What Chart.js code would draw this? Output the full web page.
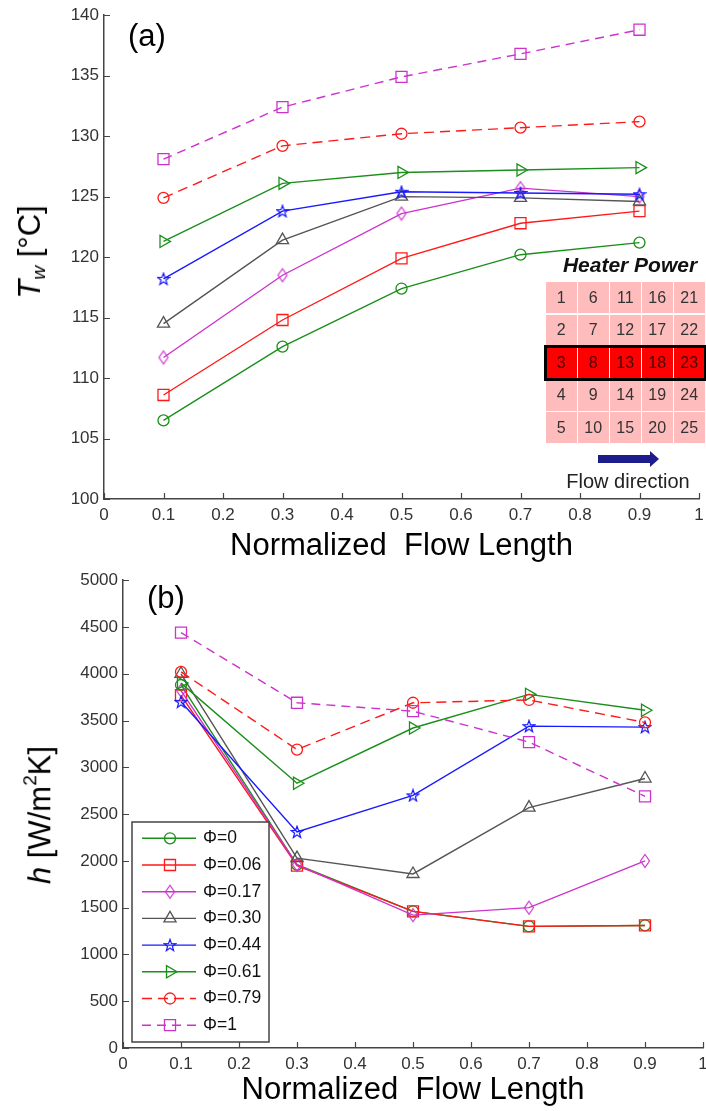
<!DOCTYPE html>
<html>
<head>
<meta charset="utf-8">
<script src="https://cdn.jsdelivr.net/npm/chart.js"></script>
<style>
  body { margin: 0; background: #fff; }
  #wrap { position: relative; width: 706px; height: 1111px; font-family: "Liberation Sans", Arial, sans-serif; overflow: hidden; }
  canvas { position: absolute; left: 0; }
  #chartA { top: 0; }
  #chartB { top: 565px; }
  .ytitle { position: absolute; white-space: nowrap; font-size: 31px; line-height: 1; color: #000;
            transform: translate(-50%, -50%) rotate(-90deg); }
  .ytitle sub { font-size: 0.62em; vertical-align: -0.25em; }
  .ytitle sup { font-size: 0.62em; vertical-align: 0.75em; }
  .panel { position: absolute; font-size: 31px; line-height: 1; color: #000; }
  #heater { position: absolute; left: 546px; top: 282px; display: grid;
            grid-template-columns: repeat(5, 30.5px); grid-auto-rows: 31px; gap: 1.5px; }
  #heater div { background: #ffbcbc; color: #333; font-size: 16px; display: flex; align-items: center; justify-content: center; }
  #heater div.on { background: #ff0000; color: #4a0000; }
  #rowBorder { position: absolute; left: 544px; top: 345px; width: 157px; height: 30px; border: 3px solid #000; }
  #heaterTitle { position: absolute; left: 630px; top: 265px; transform: translate(-50%, -50%);
                 font-size: 21px; font-weight: bold; font-style: italic; white-space: nowrap; color: #111; }
  #flowText { position: absolute; left: 628px; top: 481px; transform: translate(-50%, -50%);
              font-size: 20px; white-space: nowrap; color: #222; }
  #arrow { position: absolute; left: 590px; top: 445px; }
</style>
</head>
<body>
<div id="wrap">
  <canvas id="chartA" width="716" height="565"></canvas>
  <canvas id="chartB" width="716" height="546"></canvas>

  <div class="ytitle" style="left:31px; top:252px;"><i>T</i><sub><i>w</i></sub> [°C]</div>
  <div class="ytitle" style="left:38px; top:815px;"><i>h</i> [W/m<sup>2</sup>K]</div>
  <div class="panel" style="left:128px; top:20px;">(a)</div>
  <div class="panel" style="left:147px; top:582px;">(b)</div>

  <div id="heaterTitle">Heater Power</div>
  <div id="heater"></div>
  <div id="rowBorder"></div>
  <svg id="arrow" width="80" height="30">
    <polygon points="8,10 60,10 60,6 69,14 60,22 60,18 8,18" fill="#1c1c8c"/>
  </svg>
  <div id="flowText">Flow direction</div>
</div>

<script>
// x positions (normalized flow length)
const flowLength = [0.1, 0.3, 0.5, 0.7, 0.9];
const phiLabels = ['Φ=0', 'Φ=0.06', 'Φ=0.17', 'Φ=0.30', 'Φ=0.44', 'Φ=0.61', 'Φ=0.79', 'Φ=1'];

// (a) wall temperature Tw [°C]
const tw_phi0   = [106.5, 112.6, 117.4, 120.2, 121.2];
const tw_phi006 = [108.6, 114.8, 119.9, 122.8, 123.8];
const tw_phi017 = [111.7, 118.5, 123.6, 125.7, 125.0];
const tw_phi030 = [114.5, 121.4, 125.0, 124.9, 124.6];
const tw_phi044 = [118.2, 123.8, 125.4, 125.3, 125.2];
const tw_phi061 = [121.3, 126.1, 127.0, 127.2, 127.4];
const tw_phi079 = [124.9, 129.2, 130.2, 130.7, 131.2];
const tw_phi1   = [128.1, 132.4, 134.9, 136.8, 138.8];

// (b) heat transfer coeff h [W/m2K]
const h_phi0   = [3880, 1960, 1460, 1300, 1310];
const h_phi006 = [3770, 1950, 1460, 1300, 1310];
const h_phi017 = [3820, 1960, 1420, 1500, 2000];
const h_phi030 = [4000, 2030, 1860, 2570, 2880];
const h_phi044 = [3700, 2310, 2700, 3440, 3430];
const h_phi061 = [3900, 2830, 3420, 3780, 3610];
const h_phi079 = [4020, 3190, 3690, 3720, 3480];
const h_phi1   = [4440, 3690, 3600, 3270, 2690];

// axis ranges / steps
const xRange = [0, 1], xStep = 0.1;
const twRange = [100, 140], twStep = 5;
const hRange = [0, 5000], hStep = 500;

// heater inset: numbering of 5x5 heaters, row 3 is on
const heaterGrid = [
  [1, 6, 11, 16, 21],
  [2, 7, 12, 17, 22],
  [3, 8, 13, 18, 23],
  [4, 9, 14, 19, 24],
  [5, 10, 15, 20, 25]
];
const activeRow = 2;

// build the inset
const heaterEl = document.getElementById('heater');
heaterGrid.forEach((row, r) => row.forEach(n => {
  const d = document.createElement('div');
  d.textContent = n;
  if (r === activeRow) d.className = 'on';
  heaterEl.appendChild(d);
}));

Chart.defaults.font.family = '"Liberation Sans", Arial, sans-serif';

// matlab-ish custom markers
function makeDiamond(color) {
  const c = document.createElement('canvas');
  c.width = 12; c.height = 16;
  const g = c.getContext('2d');
  g.strokeStyle = color; g.lineWidth = 1.2;
  g.beginPath();
  g.moveTo(6, 1.5); g.lineTo(10.5, 8); g.lineTo(6, 14.5); g.lineTo(1.5, 8);
  g.closePath(); g.stroke();
  return c;
}
function makeStar(color) {
  const c = document.createElement('canvas');
  c.width = 14; c.height = 14;
  const g = c.getContext('2d');
  g.strokeStyle = color; g.lineWidth = 1.2;
  g.beginPath();
  for (let k = 0; k < 10; k++) {
    const a = -Math.PI / 2 + k * Math.PI / 5;
    const rr = k % 2 ? 2.5 : 6.2;
    const px = 7 + rr * Math.cos(a), py = 7.5 + rr * Math.sin(a);
    k ? g.lineTo(px, py) : g.moveTo(px, py);
  }
  g.closePath(); g.stroke();
  return c;
}

const GREEN = '#1b8f1b', RED = '#ff1a1a', MAG = '#cc33cc', GRAY = '#555555', BLUE = '#1a1aff';
const styles = [
  { color: GREEN, pointStyle: 'circle', r: 5.5 },
  { color: RED, pointStyle: 'rect', r: 7.8 },
  { color: MAG, pointStyle: makeDiamond(MAG), r: 6 },
  { color: GRAY, pointStyle: 'triangle', r: 7 },
  { color: BLUE, pointStyle: makeStar(BLUE), r: 6 },
  { color: GREEN, pointStyle: 'triangle', r: 7, rot: 90 },
  { color: RED, pointStyle: 'circle', r: 5.5, dash: [10, 6] },
  { color: MAG, pointStyle: 'rect', r: 7.8, dash: [9, 6] }
];

function makeSets(series) {
  return series.map((vals, i) => {
    const s = styles[i];
    return {
      label: phiLabels[i],
      data: flowLength.map((x, k) => ({ x: x, y: vals[k] })),
      borderColor: s.color,
      borderWidth: 1.4,
      borderDash: s.dash || [],
      pointStyle: s.pointStyle,
      pointRadius: s.r,
      pointRotation: s.rot || 0,
      pointBorderColor: s.color,
      pointBackgroundColor: 'rgba(0,0,0,0)',
      pointBorderWidth: 1.3,
      order: series.length - i,
      tension: 0
    };
  });
}

// ticks pointing inward like matlab
const inwardTicks = {
  id: 'inwardTicks',
  beforeDatasetsDraw(chart) {
    const { ctx, chartArea: ca, scales: { x, y } } = chart;
    ctx.save();
    ctx.strokeStyle = '#444';
    ctx.lineWidth = 1.2;
    ctx.beginPath();
    x.ticks.forEach(t => {
      const px = Math.round(x.getPixelForValue(t.value)) + 0.5;
      ctx.moveTo(px, ca.bottom); ctx.lineTo(px, ca.bottom - 6);
    });
    y.ticks.forEach(t => {
      const py = Math.round(y.getPixelForValue(t.value)) + 0.5;
      ctx.moveTo(ca.left, py); ctx.lineTo(ca.left + 6, py);
    });
    ctx.stroke();
    ctx.restore();
  }
};

// legend box in lower left of panel b
const boxLegend = {
  id: 'boxLegend',
  afterDraw(chart) {
    const { ctx, chartArea: ca } = chart;
    const left = ca.left + 9, top = ca.bottom - 226, w = 137, h = 220;
    ctx.save();
    ctx.fillStyle = '#fff';
    ctx.fillRect(left, top, w, h);
    ctx.strokeStyle = '#444';
    ctx.lineWidth = 1.5;
    ctx.strokeRect(left, top, w, h);
    chart.data.datasets.forEach((ds, i) => {
      const yy = top + 16.3 + i * 26.7;
      ctx.strokeStyle = ds.borderColor;
      ctx.lineWidth = ds.borderWidth;
      ctx.setLineDash(ds.borderDash);
      ctx.beginPath();
      ctx.moveTo(left + 10, yy); ctx.lineTo(left + 64, yy);
      ctx.stroke();
      ctx.setLineDash([]);
      ctx.fillStyle = 'rgba(0,0,0,0)';
      ctx.lineWidth = ds.pointBorderWidth;
      Chart.helpers.drawPoint(ctx, {
        pointStyle: ds.pointStyle, radius: ds.pointRadius,
        rotation: ds.pointRotation, borderWidth: ds.pointBorderWidth
      }, left + 38, yy);
      ctx.fillStyle = '#111';
      ctx.font = '17.5px "Liberation Sans", Arial, sans-serif';
      ctx.textBaseline = 'middle';
      ctx.textAlign = 'left';
      ctx.fillText(ds.label, left + 71, yy);
    });
    ctx.restore();
  }
};

function axisOpts(range, step, fmt, fit) {
  return {
    type: 'linear', min: range[0], max: range[1],
    grid: { display: false, drawTicks: false },
    border: { display: true, color: '#444', width: 1.5 },
    ticks: { stepSize: step, color: '#333', font: { size: 17 }, callback: fmt },
    afterFit: fit
  };
}

const fmtX = v => String(Math.round(v * 10) / 10);
const fmtY = v => String(Math.round(v));

function makeChart(id, series, yRange, yStep, opts) {
  const xo = axisOpts(xRange, xStep, fmtX, s => { s.height = opts.xh; });
  xo.ticks.padding = 6;
  xo.ticks.maxRotation = 0;
  xo.title = { display: true, text: 'Normalized  Flow Length', color: '#000', font: { size: 31 }, padding: 0 };
  const yo = axisOpts(yRange, yStep, fmtY, s => { s.width = opts.yw; });
  yo.ticks.padding = 5;
  return new Chart(document.getElementById(id), {
    type: 'line',
    data: { datasets: makeSets(series) },
    options: {
      responsive: false,
      animation: false,
      layout: { padding: opts.pad },
      plugins: { legend: { display: false }, tooltip: { enabled: false } },
      scales: { x: xo, y: yo }
    },
    plugins: opts.plugins
  });
}

// both canvases are 10px wider than the page; right padding sets where the axis ends
makeChart('chartA',
  [tw_phi0, tw_phi006, tw_phi017, tw_phi030, tw_phi044, tw_phi061, tw_phi079, tw_phi1],
  twRange, twStep,
  { xh: 66, yw: 104, pad: { top: 15, right: 17, bottom: 0, left: 0 }, plugins: [inwardTicks] });

makeChart('chartB',
  [h_phi0, h_phi006, h_phi017, h_phi030, h_phi044, h_phi061, h_phi079, h_phi1],
  hRange, hStep,
  { xh: 61, yw: 123, pad: { top: 12, right: 13, bottom: 2, left: 0 }, plugins: [inwardTicks, boxLegend] });
</script>
</body>
</html>
